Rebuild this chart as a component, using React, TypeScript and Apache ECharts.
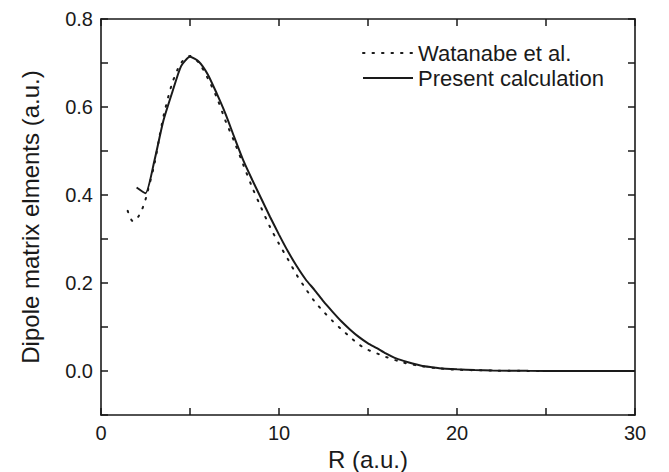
import React, { useEffect, useRef } from "react";
import * as echarts from "echarts";

const presentR = [2.0, 2.5, 3.0, 3.5, 4.0, 4.5, 5.0, 5.5, 6.0, 6.5, 7.0, 7.5, 8.0, 8.5, 9.0, 9.5, 10.0, 10.5, 11.0, 11.5, 12.0, 12.5, 13.0, 13.5, 14.0, 14.5, 15.0, 15.5, 16.0, 16.5, 17.0, 17.5, 18.0, 18.5, 19.0, 20.0, 21.0, 22.0, 24.0, 26.0, 30.0];
const presentY = [0.417, 0.404, 0.478, 0.568, 0.633, 0.693, 0.714, 0.703, 0.674, 0.631, 0.584, 0.53, 0.478, 0.434, 0.392, 0.35, 0.31, 0.272, 0.238, 0.208, 0.184, 0.158, 0.135, 0.113, 0.094, 0.077, 0.063, 0.052, 0.04, 0.03, 0.023, 0.017, 0.012, 0.009, 0.0065, 0.004, 0.002, 0.001, 0.0003, 0.0, 0.0];

const watanabeR = [1.5, 1.8, 2.1, 2.4, 2.6, 3.0, 3.3, 3.55, 4.0, 4.5, 5.0, 5.5, 6.0, 6.5, 7.0, 7.5, 8.0, 8.5, 9.0, 9.5, 10.0, 10.5, 11.0, 11.5, 12.0, 12.5, 13.0, 13.5, 14.0, 14.5, 15.0, 15.5, 16.0, 17.0, 18.0, 19.0, 20.0, 22.0, 25.0, 29.0];
const watanabeY = [0.364, 0.34, 0.351, 0.377, 0.405, 0.47, 0.536, 0.586, 0.654, 0.7, 0.716, 0.7, 0.665, 0.622, 0.568, 0.52, 0.468, 0.417, 0.371, 0.327, 0.289, 0.254, 0.218, 0.187, 0.158, 0.135, 0.114, 0.095, 0.077, 0.06, 0.048, 0.04, 0.032, 0.019, 0.011, 0.006, 0.003, 0.001, 0.0, 0.0];

const xTickLabels = ["0", "10", "20", "30"];
const yTickLabels = ["0.0", "0.2", "0.4", "0.6", "0.8"];

const FONT = "'Liberation Sans', Arial, Helvetica, sans-serif";
const INK = "#1a1a1a";

export default function App() {
  const ref = useRef<HTMLDivElement>(null);
  useEffect(() => {
    if (!ref.current) return;
    const chart = echarts.init(ref.current, undefined, { renderer: "svg" });
    const present = presentR.map((r, i) => [r, presentY[i]]);
    const watanabe = watanabeR.map((r, i) => [r, watanabeY[i]]);
    const axisLine = { show: true, onZero: false, lineStyle: { color: INK, width: 1.6 } };
    const axisTick = { show: true, inside: true, length: 7, lineStyle: { color: INK, width: 1.5 } };
    chart.setOption({
      animation: false,
      backgroundColor: "#ffffff",
      textStyle: { fontFamily: FONT },
      grid: { left: 101, right: 34, top: 19, bottom: 57, containLabel: false, outerBoundsMode: "none" },
      legend: {
        show: true,
        orient: "vertical",
        left: 362,
        top: 42,
        padding: 0,
        itemWidth: 50,
        itemHeight: 14,
        itemGap: 3,
        itemStyle: { opacity: 0, borderWidth: 0 },
        textStyle: { fontFamily: FONT, fontSize: 22, color: INK },
        data: ["Watanabe et al.", "Present calculation"],
      },
      xAxis: [
        {
          type: "value",
          min: 0,
          max: 30,
          interval: 5,
          position: "bottom",
          axisLine,
          axisTick,
          splitLine: { show: false },
          axisLabel: {
            color: INK,
            fontSize: 20,
            fontFamily: FONT,
            margin: 8,
            formatter: (v: number) => (xTickLabels.includes(String(v)) ? String(v) : ""),
          },
          name: "R (a.u.)",
          nameLocation: "middle",
          nameGap: 27,
          nameTextStyle: { color: INK, fontSize: 24, fontFamily: FONT },
        },
        {
          type: "value",
          min: 0,
          max: 30,
          interval: 5,
          position: "top",
          axisLine,
          axisTick,
          splitLine: { show: false },
          axisLabel: { show: false },
        },
      ],
      yAxis: [
        {
          type: "value",
          min: -0.1,
          max: 0.8,
          interval: 0.1,
          position: "left",
          axisLine,
          axisTick,
          splitLine: { show: false },
          axisLabel: {
            color: INK,
            fontSize: 20,
            fontFamily: FONT,
            margin: 8,
            formatter: (v: number) => {
              const s = (Math.round(v * 10) / 10).toFixed(1);
              return yTickLabels.includes(s) ? s : "";
            },
          },
          name: "Dipole matrix elments (a.u.)",
          nameLocation: "middle",
          nameGap: 59,
          nameTextStyle: { color: INK, fontSize: 24, fontFamily: FONT },
        },
        {
          type: "value",
          min: -0.1,
          max: 0.8,
          interval: 0.1,
          position: "right",
          axisLine,
          axisTick,
          splitLine: { show: false },
          axisLabel: { show: false },
        },
      ],
      series: [
        {
          name: "Watanabe et al.",
          type: "line",
          data: watanabe,
          symbol: "none",
          smooth: 0.3,
          lineStyle: { color: INK, width: 2, type: [1.5, 8], cap: "round" },
          itemStyle: { color: INK },
        },
        {
          name: "Present calculation",
          type: "line",
          data: present,
          symbol: "none",
          smooth: 0.2,
          lineStyle: { color: INK, width: 2 },
          itemStyle: { color: INK },
        },
      ],
    });
    return () => chart.dispose();
  }, []);
  return <div ref={ref} style={{ width: 669, height: 472, position: "absolute", left: 0, top: 0 }} />;
}
